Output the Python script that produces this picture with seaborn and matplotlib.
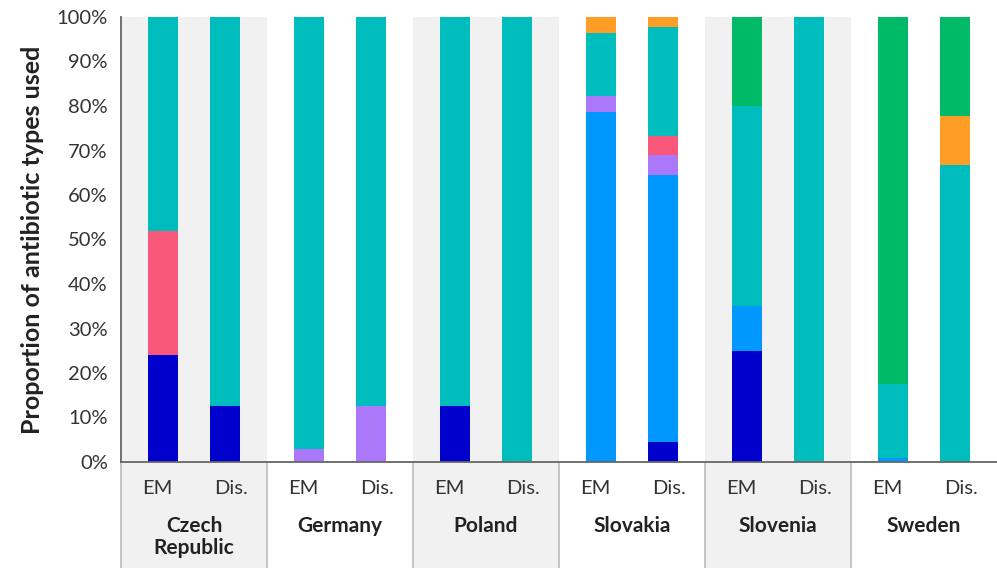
import numpy as np
import pandas as pd
import seaborn as sns
import matplotlib
matplotlib.use('Agg')
from matplotlib import pyplot as plt

# data (percent of antibiotic types, bottom -> top)
countries = ['Czech\nRepublic', 'Germany', 'Poland', 'Slovakia', 'Slovenia', 'Sweden']
groups = ['EM', 'Dis.']
layers = ['dark blue', 'blue', 'purple', 'pink', 'teal', 'orange', 'green']
layer_colors = ['#0000CC', '#0098FF', '#AB78FA', '#FA587A', '#00BDBD', '#FF9E27', '#00BA68']

dark_blue = [24.0, 12.5, 0.0, 0.0, 12.5, 0.0, 0.0, 4.44, 25.0, 0.0, 0.0, 0.0]
blue      = [0.0, 0.0, 0.0, 0.0, 0.0, 0.0, 78.6, 60.0, 10.0, 0.0, 0.9, 0.0]
purple    = [0.0, 0.0, 3.0, 12.5, 0.0, 0.0, 3.6, 4.44, 0.0, 0.0, 0.0, 0.0]
pink      = [28.0, 0.0, 0.0, 0.0, 0.0, 0.0, 0.0, 4.44, 0.0, 0.0, 0.0, 0.0]
teal      = [48.0, 87.5, 97.0, 87.5, 87.5, 100.0, 14.2, 24.46, 45.0, 100.0, 16.6, 66.7]
orange    = [0.0, 0.0, 0.0, 0.0, 0.0, 0.0, 3.6, 2.22, 0.0, 0.0, 0.0, 11.1]
green     = [0.0, 0.0, 0.0, 0.0, 0.0, 0.0, 0.0, 0.0, 20.0, 0.0, 82.5, 22.2]

values = [dark_blue, blue, purple, pink, teal, orange, green]

# bar positions: each country takes 2 units
bar_pos = []
for i in range(len(countries)):
    bar_pos += [2 * i + 0.57, 2 * i + 1.42]

rows = []
for name, vals in zip(layers, values):
    for p, v in zip(bar_pos, vals):
        rows.append({'pos': p, 'layer': name, 'value': v})
df = pd.DataFrame(rows)
df['top'] = df.groupby('pos')['value'].cumsum()

sns.set_style('white')
plt.rcParams['font.family'] = ['Lato', 'DejaVu Sans']

fig = plt.figure(figsize=(9.97, 5.68), dpi=100)
ax = fig.add_axes([121 / 997, 1 - 462 / 568, 876 / 997, 445 / 568])

# alternating country bands (extend below axis)
for i in range(len(countries)):
    if i % 2 == 0:
        ax.axvspan(2 * i, 2 * i + 2, ymin=-0.3, ymax=1, color='#F1F1F1', lw=0,
                   clip_on=False, zorder=0)

# stacked bars: draw cumulative tops from highest layer down
for name, col in reversed(list(zip(layers, layer_colors))):
    sub = df[df['layer'] == name]
    sns.barplot(data=sub, x='pos', y='top', native_scale=True, color=col,
                width=0.485, errorbar=None, linewidth=0, saturation=1, ax=ax,
                zorder=2)

ax.set_xlim(0, 12)
ax.set_ylim(0, 100)
ax.set_yticks(np.arange(0, 101, 10))
ax.set_yticklabels([f'{t}%' for t in range(0, 101, 10)], fontsize=14.5, color='#333333')
ax.set_ylabel('Proportion of antibiotic types used', fontsize=18, fontweight='bold',
              color='#222222', labelpad=9)
ax.set_xlabel('')

ax.set_xticks(np.arange(0, 13, 1))
ax.set_xticklabels([])
ax.tick_params(axis='x', length=6, width=1.2, color='#666666', direction='out')
ax.tick_params(axis='y', length=6, width=1.2, color='#666666', direction='out', pad=3.5)

for s in ['top', 'right']:
    ax.spines[s].set_visible(False)
for s in ['left', 'bottom']:
    ax.spines[s].set_color('#666666')
    ax.spines[s].set_linewidth(1.3)

trans = ax.get_xaxis_transform()
for i, c in enumerate(countries):
    for j, g in enumerate(groups):
        ax.text(2 * i + 0.5 + j, -0.059, g, transform=trans, ha='center', va='center',
                fontsize=14.5, color='#333333')
    for k, line in enumerate(c.split('\n')):
        ax.text(2 * i + 1, -0.144 - k * 0.05, line, transform=trans, ha='center',
                va='center', fontsize=15, fontweight='bold', color='#222222')
    ax.plot([2 * i, 2 * i], [0, -0.3], transform=trans, color='#BBBBBB', lw=1.2,
            clip_on=False, zorder=1)

fig.savefig('out.png', dpi=100)
